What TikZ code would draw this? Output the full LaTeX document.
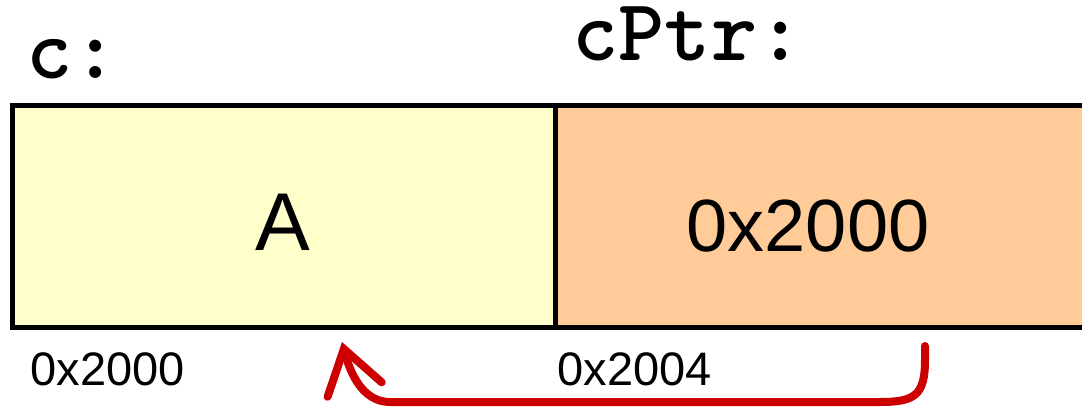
\documentclass[tikz,border=0pt]{standalone}
\usepackage{fontspec}
\setmainfont{Liberation Sans}
\usetikzlibrary{arrows.meta}
\definecolor{cyel}{HTML}{FFFFCC}
\definecolor{corg}{HTML}{FFCC99}
\definecolor{ared}{HTML}{CC0000}
\begin{document}
\begin{tikzpicture}[x=0.5pt,y=-0.5pt,
  cell/.style={draw=black,line width=2.5pt,minimum height=111pt,inner sep=0pt,anchor=north west},
  val/.style={anchor=base,inner sep=0pt},
  varname/.style={anchor=base west,inner sep=0pt,font=\ttfamily\bfseries\addfontfeatures{FakeBold=1.5}\fontsize{44}{44}\selectfont},
  addr/.style={anchor=base west,inner sep=0pt,font=\fontsize{23.5}{23.5}\selectfont},
  ptrarrow/.style={draw=ared,line width=4pt,line cap=round,-{Straight Barb[length=21pt,width=28pt,line cap=round]}}]
\useasboundingbox (0,0) rectangle (1082,407);
\clip (0,0) rectangle (1082,407);
\node[cell,fill=cyel,minimum width=271.5pt] (c) at (10,103) {};
\node[cell,fill=corg,minimum width=270pt] (cptr) at (553,103) {};
\node[val,font=\fontsize{41}{41}\selectfont] (cval) at (283,250) {A};
\node[val,font=\fontsize{37}{37}\selectfont] (cptrval) at (808,251) {0x2000};
\node[varname] (cname) at (26,78) {c:};
\node[varname] (cptrname) at (572,60) {cPtr:};
\node[addr] (a1) at (30,385) {0x2000};
\node[addr] (a2) at (557,385) {0x2004};
\coordinate (s) at (925,346);
\coordinate (e) at (342,342);
\draw[ptrarrow] (s) -- (925,360) .. controls (925,395) and (915,402) .. (880,402) -- (390,402) .. controls (362,402) and (350,372) .. (e);
\end{tikzpicture}
\end{document}
